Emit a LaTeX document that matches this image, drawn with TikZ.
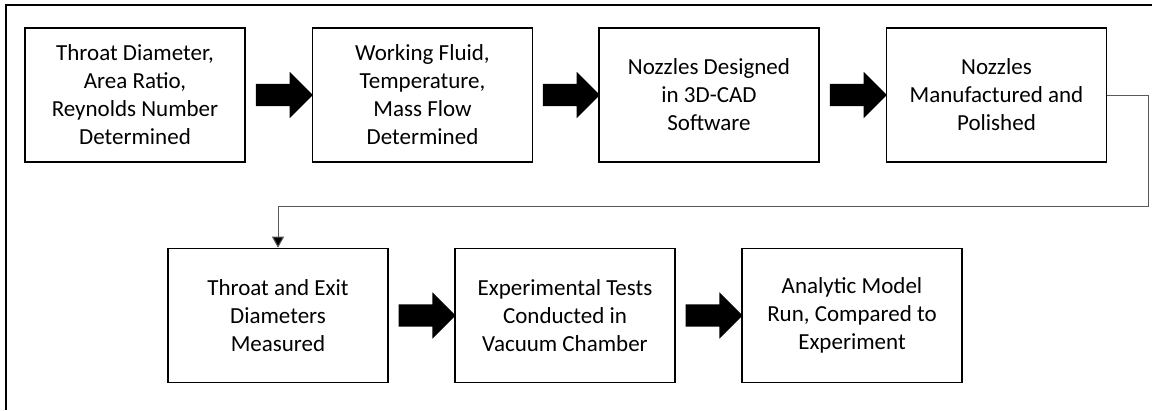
\documentclass[tikz,border=0pt]{standalone}
\usepackage{fontspec}
\setmainfont{Carlito}
\usetikzlibrary{shapes.arrows,arrows.meta,positioning,calc}
\tikzset{
	block/.style = {
		draw,
		rectangle,
		minimum width=220pt,
		minimum height=134pt,
		line width=1.6pt,
		align=center,
		font=\fontsize{23}{28}\selectfont
	},
	bigarrow/.style = {
		single arrow,
		fill=black,
		draw=none,
		inner xsep=0pt,
		inner ysep=11pt,
		minimum height=57pt,
		single arrow head extend=12pt
	},
	link/.style = {
		-{Triangle[width=12pt,length=11pt,fill=black]},
		draw=black!65,
		line width=1pt
	},
	frame/.style = {
		draw=black,
		line width=1.6pt
	}
}
\begin{document}
\begin{tikzpicture}[x=1pt,y=-1pt]
	\useasboundingbox (0,0) rectangle (1152,410);
	
	% --- outer frame ---
	\draw[frame] (6,410) |- (1152,5);
	
	% --- top row ---
	\node [block] (diam) at (135,95) {Throat Diameter,\\Area Ratio,\\Reynolds Number\\Determined};
	\node [block] (fluid) at (422.5,95) {Working Fluid,\\Temperature,\\Mass Flow\\Determined};
	\node [block] (cad) at (709,95) {Nozzles Designed\\in 3D-CAD\\Software};
	\node [block] (make) at (996.5,95) {Nozzles\\Manufactured and\\Polished};
	
	% --- bottom row ---
	\node [block] (meas) at (278,315.5) {Throat and Exit\\Diameters\\Measured};
	\node [block] (test) at (565,315.5) {Experimental Tests\\Conducted in\\Vacuum Chamber};
	\node [block] (model) at (852,315.5) {Analytic Model\\Run, Compared to\\Experiment};
	
	% --- block arrows ---
	\node [bigarrow] (a1) at ($(diam.east)!0.5!(fluid.west)$) {};
	\node [bigarrow] (a2) at ($(fluid.east)!0.5!(cad.west)$) {};
	\node [bigarrow] (a3) at ($(cad.east)!0.5!(make.west)$) {};
	\node [bigarrow] (a4) at ($(meas.east)!0.5!(test.west)$) {};
	\node [bigarrow] (a5) at ($(test.east)!0.5!(model.west)$) {};
	
	% --- return line to second row ---
	\coordinate (turn) at (1148,206);
	\draw [link] (make.east) -| (turn) -| (meas.north);
	
\end{tikzpicture}
\end{document}
